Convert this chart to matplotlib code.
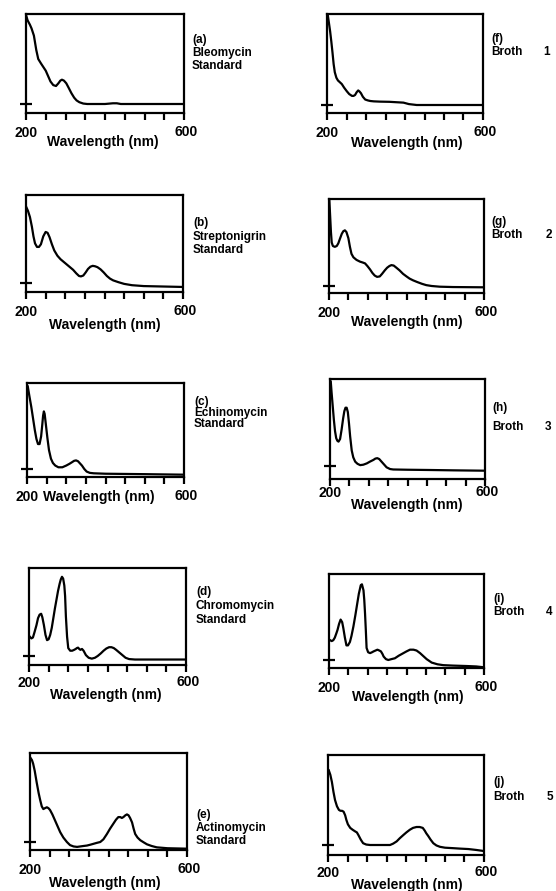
import numpy as np
import matplotlib.pyplot as plt

plt.rcParams['font.family'] = ['Liberation Sans', 'DejaVu Sans']
plt.rcParams['font.weight'] = 'bold'

# spectra: wavelength (nm) vs relative absorbance
# (0 = the baseline mark on the left axis, 1 = top of the frame)
wl_a = [200, 204, 210, 214, 220, 226, 231, 238, 244, 250, 256, 262, 269, 276, 282, 287, 291, 296,
        302, 308, 315, 322, 328, 335, 345, 355, 400, 420, 430, 440, 500, 600]
abs_a = [0.99, 0.93, 0.88, 0.84, 0.76, 0.60, 0.50, 0.45, 0.41, 0.37, 0.31, 0.25, 0.21, 0.20, 0.23, 0.26, 0.27, 0.26,
         0.23, 0.18, 0.12, 0.07, 0.04, 0.02, 0.005, 0.0, 0.0, 0.008, 0.008, 0.0, 0.0, 0.0]

wl_b = [200, 205, 210, 215, 219, 223, 228, 233, 238, 244, 250, 255, 260, 266, 272, 280, 288, 296, 304, 312,
        320, 328, 335, 340, 346, 352, 358, 364, 370, 376, 382, 390, 398, 406, 414, 422, 435, 450, 470, 500, 550, 600]
abs_b = [0.87, 0.82, 0.75, 0.64, 0.53, 0.45, 0.41, 0.41, 0.44, 0.53, 0.58, 0.57, 0.52, 0.44, 0.37, 0.31, 0.27, 0.24, 0.21, 0.18,
         0.15, 0.11, 0.08, 0.075, 0.085, 0.12, 0.16, 0.185, 0.195, 0.19, 0.18, 0.155, 0.12, 0.08, 0.05, 0.03, 0.01, -0.01, -0.025, -0.035, -0.04, -0.045]

wl_c = [202, 206, 211, 216, 220, 224, 228, 232, 236, 239, 241, 243, 245, 248, 252, 256, 261, 266, 272, 280,
        290, 300, 308, 315, 320, 325, 330, 335, 340, 346, 352, 360, 370, 400, 500, 600]
abs_c = [0.96, 0.85, 0.72, 0.57, 0.45, 0.35, 0.29, 0.29, 0.38, 0.52, 0.62, 0.67, 0.64, 0.52, 0.36, 0.22, 0.12, 0.07, 0.04, 0.02,
         0.02, 0.04, 0.06, 0.08, 0.095, 0.10, 0.09, 0.065, 0.04, 0.0, -0.03, -0.045, -0.05, -0.055, -0.06, -0.066]

wl_d = [202, 206, 210, 214, 219, 223, 227, 231, 234, 238, 242, 246, 250, 254, 258, 262, 266, 270, 274, 278,
        281, 284, 287, 290, 292, 294, 297, 300, 305, 310, 315, 319, 322, 325, 328, 331, 335, 339, 345, 352,
        360, 368, 375, 383, 390, 397, 404, 410, 416, 422, 430, 438, 446, 455, 470, 500, 600]
abs_d = [0.22, 0.20, 0.21, 0.27, 0.35, 0.43, 0.47, 0.48, 0.44, 0.35, 0.24, 0.18, 0.19, 0.24, 0.32, 0.43, 0.54, 0.64, 0.74, 0.82,
         0.87, 0.90, 0.88, 0.80, 0.68, 0.45, 0.22, 0.09, 0.06, 0.06, 0.07, 0.08, 0.09, 0.095, 0.08, 0.07, 0.08, 0.06, 0.01, -0.02,
         -0.03, -0.02, 0.0, 0.03, 0.06, 0.085, 0.10, 0.10, 0.09, 0.07, 0.04, 0.01, -0.02, -0.035, -0.04, -0.04, -0.04]

wl_e = [202, 205, 208, 212, 217, 222, 226, 230, 234, 238, 243, 247, 251, 257, 264, 270, 277, 285, 294, 302,
        311, 320, 328, 336, 345, 354, 362, 370, 379, 387, 396, 404, 413, 419, 425, 430, 434, 438, 443, 447,
        451, 455, 460, 464, 468, 474, 481, 490, 498, 510, 523, 550, 600]
abs_e = [0.94, 0.92, 0.88, 0.80, 0.67, 0.55, 0.47, 0.40, 0.37, 0.38, 0.39, 0.38, 0.36, 0.31, 0.24, 0.18, 0.11, 0.05, 0.0, -0.035,
         -0.05, -0.055, -0.05, -0.045, -0.04, -0.03, -0.02, -0.01, 0.0, 0.03, 0.09, 0.15, 0.21, 0.25, 0.28, 0.28, 0.27, 0.28, 0.30, 0.31,
         0.30, 0.27, 0.22, 0.15, 0.09, 0.05, 0.02, -0.005, -0.026, -0.045, -0.06, -0.07, -0.075]

wl_f = [202, 205, 208, 211, 214, 217, 220, 224, 228, 233, 238, 244, 251, 257, 264, 268, 272, 276, 280, 283,
        287, 292, 298, 305, 311, 320, 336, 360, 380, 396, 410, 430, 500, 600]
abs_f = [0.99, 0.90, 0.81, 0.70, 0.58, 0.45, 0.36, 0.30, 0.27, 0.25, 0.23, 0.19, 0.15, 0.12, 0.10, 0.10, 0.11, 0.14, 0.16, 0.15,
         0.13, 0.09, 0.06, 0.05, 0.044, 0.04, 0.037, 0.035, 0.03, 0.026, 0.01, 0.0, 0.0, 0.0]

wl_g = [201, 203, 205, 207, 210, 215, 220, 224, 228, 233, 237, 241, 245, 250, 254, 258, 263, 271, 280, 287,
        293, 299, 306, 312, 318, 324, 331, 337, 344, 350, 356, 361, 367, 374, 382, 391, 400, 408, 417, 428,
        440, 451, 465, 486, 520, 600]
abs_g = [0.98, 0.80, 0.62, 0.50, 0.46, 0.45, 0.46, 0.49, 0.54, 0.60, 0.63, 0.64, 0.62, 0.55, 0.45, 0.37, 0.33, 0.30, 0.28, 0.27,
         0.26, 0.23, 0.19, 0.15, 0.12, 0.105, 0.11, 0.14, 0.18, 0.21, 0.23, 0.24, 0.235, 0.21, 0.18, 0.14, 0.11, 0.085, 0.065, 0.045,
         0.025, 0.01, 0.0, -0.008, -0.012, -0.015]

wl_h = [202, 204, 207, 210, 213, 216, 219, 222, 226, 230, 234, 237, 240, 243, 246, 249, 252, 256, 260, 265,
        271, 278, 286, 295, 303, 312, 317, 322, 327, 333, 339, 346, 355, 363, 400, 458, 520, 600]
abs_h = [0.97, 0.85, 0.69, 0.53, 0.40, 0.32, 0.29, 0.28, 0.31, 0.42, 0.55, 0.63, 0.67, 0.67, 0.62, 0.49, 0.34, 0.18, 0.10, 0.05,
         0.025, 0.01, 0.015, 0.03, 0.05, 0.07, 0.085, 0.09, 0.08, 0.05, 0.02, -0.015, -0.035, -0.04, -0.043, -0.046, -0.05, -0.054]

wl_i = [203, 207, 211, 215, 219, 222, 226, 230, 234, 237, 241, 245, 249, 254, 258, 263, 268, 273, 277, 282,
        285, 289, 291, 293, 295, 297, 301, 306, 311, 315, 320, 325, 330, 334, 338, 341, 347, 353, 361, 370,
        380, 392, 400, 409, 418, 426, 435, 443, 452, 465, 480, 495, 520, 555, 580, 600]
abs_i = [0.23, 0.22, 0.23, 0.26, 0.31, 0.35, 0.42, 0.47, 0.44, 0.37, 0.26, 0.17, 0.17, 0.21, 0.28, 0.39, 0.52, 0.66, 0.77, 0.87,
         0.88, 0.81, 0.70, 0.54, 0.35, 0.14, 0.09, 0.08, 0.09, 0.10, 0.11, 0.12, 0.11, 0.10, 0.07, 0.04, 0.01, 0.0, 0.01, 0.02,
         0.05, 0.08, 0.10, 0.12, 0.12, 0.11, 0.08, 0.047, 0.01, -0.03, -0.05, -0.06, -0.065, -0.07, -0.075, -0.085]

wl_j = [202, 206, 210, 214, 218, 223, 228, 232, 236, 240, 244, 247, 251, 257, 263, 270, 274, 278, 284, 290,
        298, 308, 330, 359, 367, 376, 384, 393, 401, 410, 418, 427, 435, 443, 448, 452, 457, 463, 470, 478,
        487, 500, 520, 538, 560, 580, 600]
abs_j = [0.83, 0.78, 0.70, 0.59, 0.50, 0.43, 0.39, 0.38, 0.38, 0.37, 0.33, 0.28, 0.23, 0.19, 0.17, 0.15, 0.14, 0.11, 0.06, 0.02,
         0.005, 0.0, 0.0, 0.0, 0.015, 0.04, 0.075, 0.11, 0.14, 0.17, 0.19, 0.20, 0.20, 0.19, 0.16, 0.13, 0.10, 0.06, 0.02, -0.005,
         -0.02, -0.03, -0.035, -0.04, -0.045, -0.055, -0.067]

letters = ['(a)', '(b)', '(c)', '(d)', '(e)', '(f)', '(g)', '(h)', '(i)', '(j)']
compounds = ['Bleomycin', 'Streptonigrin', 'Echinomycin', 'Chromomycin', 'Actinomycin']
broths = ['1', '2', '3', '4', '5']
spectra = [(wl_a, abs_a), (wl_b, abs_b), (wl_c, abs_c), (wl_d, abs_d), (wl_e, abs_e),
           (wl_f, abs_f), (wl_g, abs_g), (wl_h, abs_h), (wl_i, abs_i), (wl_j, abs_j)]

# layout in pixels of the 556x891 page: frame (left, top, right, bottom), baseline y,
# tick number y, x-label (x, y), side text x, side text line ys, broth number x (centre)
W, H = 556, 891
layout = [
    ((26, 14, 184, 113), 104, 133, (103, 142), 192, (40, 53, 66), None),
    ((26, 195, 183, 292), 283, 312, (105, 325), 193, (223, 237, 250), None),
    ((27, 383, 184, 477), 469, 497, (99, 497), 194, (402, 413, 424), None),
    ((29, 568, 186, 665), 656, 683, (106, 695), 196, (592, 606, 620), None),
    ((30, 753, 187, 850), 842, 870, (105, 883), 196, (815, 828, 841), None),
    ((327, 14, 483, 113), 105, 133, (407, 143), 491, (39, 52), 547),
    ((329, 199, 484, 293), 286, 313, (407, 322), 491, (222, 235), 549),
    ((330, 379, 485, 479), 466, 493, (407, 505), 492, (408, 427), 548),
    ((329, 574, 484, 668), 660, 688, (408, 697), 493, (599, 612), 549),
    ((328, 755, 484, 855), 845, 873, (407, 885), 493, (782, 797), 550),
]

fig = plt.figure(figsize=(W / 100, H / 100), dpi=100)

for k, ((wl, ab), (box, base, tick_y, xlab, side_x, side_y, num_x)) in enumerate(zip(spectra, layout)):
    l, t, r, b = box
    ax = fig.add_axes([l / W, 1 - b / H, (r - l) / W, (b - t) / H])
    ax.plot(wl, ab, color='black', lw=1.6)
    ax.set_xlim(200, 600)
    ax.set_ylim(-(b - base) / (base - t), 1.0)
    ax.set_xticks(np.arange(200, 601, 50))
    ax.set_xticklabels([])
    ax.set_yticks([0])
    ax.set_yticklabels([])
    ax.tick_params(axis='x', direction='out', length=5, width=1.6, color='black')
    ax.tick_params(axis='y', direction='inout', length=8, width=1.6, color='black')
    for sp in ax.spines.values():
        sp.set_linewidth(1.6)
        sp.set_color('black')

    fig.text(l / W, 1 - tick_y / H, '200', ha='center', va='center', fontsize=10)
    fig.text((r + 2) / W, 1 - (tick_y - 1) / H, '600', ha='center', va='center', fontsize=10)
    fig.text(xlab[0] / W, 1 - xlab[1] / H, 'Wavelength (nm)', ha='center', va='center', fontsize=10)

    if k < 5:
        lines = [letters[k], compounds[k], 'Standard']
    else:
        lines = [letters[k], 'Broth']
        fig.text(num_x / W, 1 - side_y[1] / H, broths[k - 5], ha='center', va='center', fontsize=8.5)
    for txt, y in zip(lines, side_y):
        fig.text(side_x / W, 1 - y / H, txt, ha='left', va='center', fontsize=8.5)

fig.savefig('out.png', dpi=100, facecolor='white')
